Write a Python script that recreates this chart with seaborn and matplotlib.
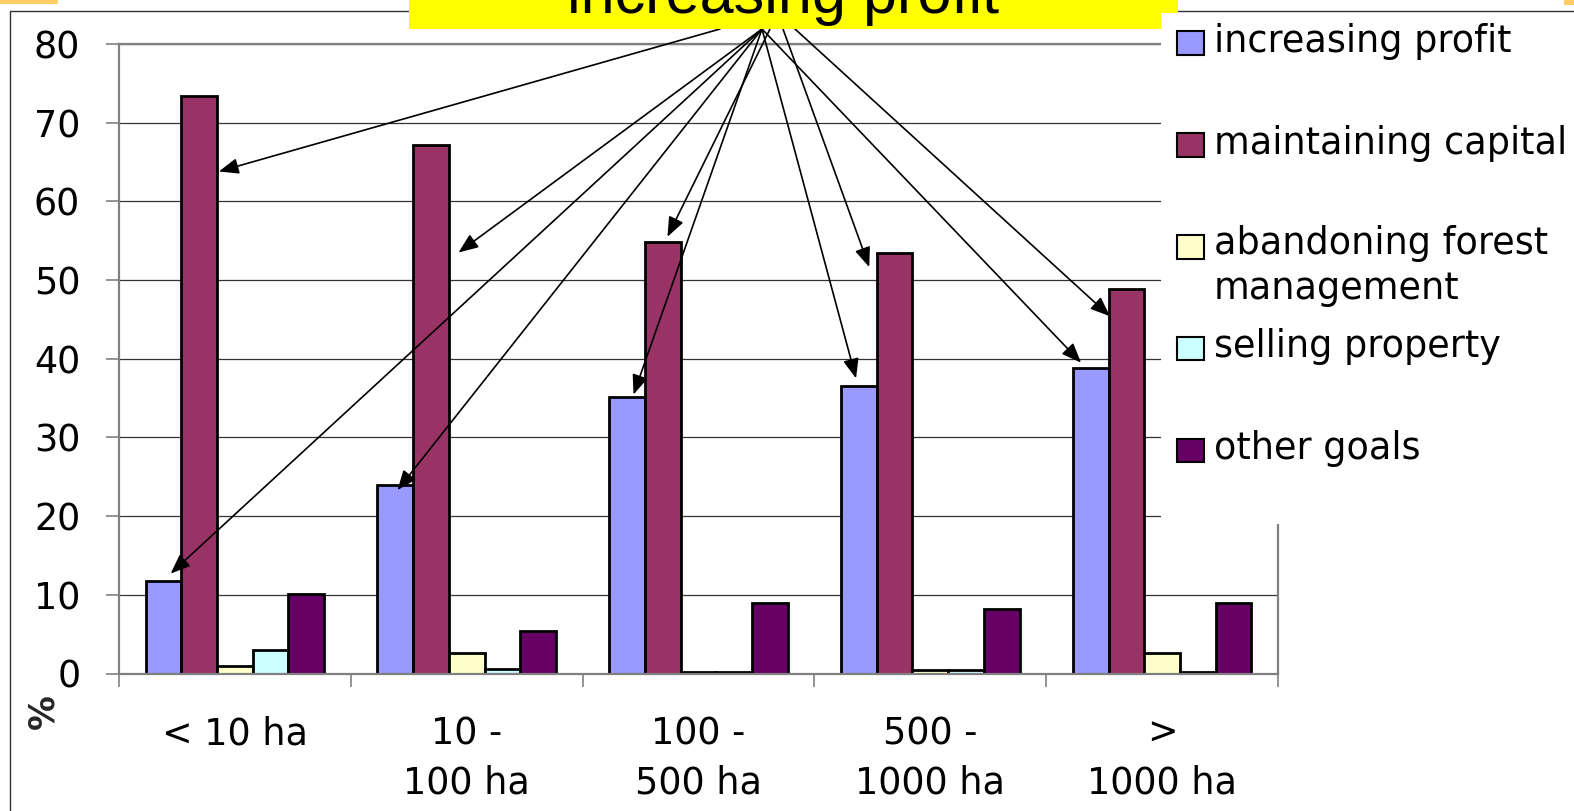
import matplotlib
matplotlib.use("Agg")
import matplotlib.pyplot as plt
from matplotlib.patches import Rectangle
from matplotlib.lines import Line2D
import numpy as np
import pandas as pd
import seaborn as sns

# ---- data -------------------------------------------------------------
size_classes = ["< 10 ha", "10 -\n100 ha", "100 -\n500 ha", "500 -\n1000 ha", ">\n1000 ha"]
goal_names = ["increasing profit", "maintaining capital",
              "abandoning forest management", "selling property", "other goals"]
legend_labels = ["increasing profit", "maintaining capital",
                 "abandoning forest\nmanagement", "selling property", "other goals"]

increasing_profit = [11.7, 24.0, 35.2, 36.6, 38.8]
maintaining_capital = [73.4, 67.2, 54.8, 53.4, 48.9]
abandoning_forest_management = [0.9, 2.6, 0.2, 0.45, 2.6]
selling_property = [3.0, 0.6, 0.2, 0.45, 0.15]
other_goals = [10.1, 5.4, 8.9, 8.2, 8.9]

goal_colors = ["#9999FF", "#993366", "#FFFFCC", "#CCFFFF", "#660066"]
y_ticks = [0, 10, 20, 30, 40, 50, 60, 70, 80]
y_label = "%"
callout_text = "increasing profit"

# callout arrows: (goal index, size-class index, x shift in bar widths,
#                  y shift from bar top, start x on the callout box in px)
callout_arrows = [
    (1, 0, 0.55, -9.6, 720),
    (1, 1, 0.77, -13.7, 762),
    (0, 0, 0.20, 1.0, 762),
    (0, 1, 0.06, -0.7, 762),
    (1, 2, 0.13, 0.7, 770),
    (0, 2, 0.18, 0.25, 762),
    (1, 3, -0.71, -1.75, 783),
    (0, 3, -0.08, 0.9, 762),
    (1, 4, -0.46, -3.5, 795),
    (0, 4, -0.27, 0.7, 762),
]

# ---- figure -----------------------------------------------------------
W, H = 1574, 811
sns.set_style("white")
plt.rcParams["font.family"] = ["DejaVu Sans"]
FS = 26.3

fig = plt.figure(figsize=(W / 100, H / 100), dpi=100)
fig.patch.set_facecolor("white")


def fx(px):
    return px / W


def fy(py):
    return 1 - py / H


ax_left, ax_right, ax_top, ax_bottom = 119, 1278, 44, 673.5
ax = fig.add_axes([fx(ax_left), fy(ax_bottom),
                   fx(ax_right) - fx(ax_left), fy(ax_top) - fy(ax_bottom)])

series = [increasing_profit, maintaining_capital, abandoning_forest_management,
          selling_property, other_goals]
df = pd.DataFrame({
    "size": np.repeat([size_classes], len(goal_names), axis=0).ravel(),
    "goal": np.repeat(goal_names, len(size_classes)),
    "share": np.concatenate(series),
})

sns.barplot(data=df, x="size", y="share", hue="goal",
            order=size_classes, hue_order=goal_names,
            palette=goal_colors, saturation=1, width=0.77,
            edgecolor="black", linewidth=2.0, errorbar=None,
            legend=False, ax=ax)

# axes styling
ax.set_xlim(-0.5, 4.5)
ax.set_ylim(0, 80)
ax.set_yticks(y_ticks)
ax.set_xlabel("")
ax.set_ylabel(y_label, fontsize=25, fontweight="bold", rotation=90,
              ha="center", va="center")
ax.yaxis.set_label_coords((43 - ax_left) / (ax_right - ax_left),
                          (ax_bottom - 712) / (ax_bottom - ax_top))
ax.set_axisbelow(True)
ax.yaxis.grid(True, color="#333333", linewidth=0.9)
ax.xaxis.grid(False)
for side in ["left", "right", "top", "bottom"]:
    ax.spines[side].set_visible(True)
    ax.spines[side].set_color("#808080")
    ax.spines[side].set_linewidth(1.6)

ax.tick_params(axis="y", which="major", left=True, length=9.4, width=1.2,
               color="#808080", pad=18.5, labelsize=FS, labelcolor="black")
ax.set_xticks(np.arange(-0.5, 5.0, 1.0), minor=True)
ax.tick_params(axis="x", which="minor", bottom=True, length=9, width=1.2,
               color="#808080")
ax.tick_params(axis="x", which="major", bottom=True, length=0, pad=30,
               labelsize=FS, labelcolor="black")
for lbl in ax.get_xticklabels():
    lbl.set_linespacing(1.42)

# callout arrows pointing at the profit / capital bars
for goal_i, size_i, dx, dy, start_x in callout_arrows:
    bar = ax.containers[goal_i][size_i]
    tx = bar.get_x() + bar.get_width() * (0.5 + dx)
    ty = bar.get_height() + dy
    ax.annotate("", xy=(tx, ty), xycoords="data",
                xytext=(start_x, H - 29), textcoords="figure pixels",
                arrowprops=dict(arrowstyle="-|>,head_length=0.5,head_width=0.2",
                                mutation_scale=24, color="black", lw=1.2,
                                shrinkA=0, shrinkB=0),
                annotation_clip=False)

# slide frame
fig.add_artist(Line2D([fx(10), 1], [fy(10.7), fy(10.7)], color="#333333",
                      lw=1.0, transform=fig.transFigure, zorder=2))
fig.add_artist(Line2D([fx(10), fx(10)], [fy(10.7), 0], color="#333333",
                      lw=1.0, transform=fig.transFigure, zorder=2))

# yellow callout box
fig.add_artist(Rectangle((fx(409), fy(29)), fx(1178) - fx(409), fy(0) - fy(29),
                         transform=fig.transFigure, facecolor="#FFFF00",
                         edgecolor="none", zorder=3))
fig.text(fx(783), fy(13), callout_text, ha="center", va="baseline",
         fontsize=44, family=["Liberation Sans"], color="black", zorder=4)

# legend panel
fig.add_artist(Rectangle((fx(1161), fy(524)), 1 - fx(1161), fy(12.5) - fy(524),
                         transform=fig.transFigure, facecolor="white",
                         edgecolor="none", zorder=5))
LEGEND_LINE = 43.3
for i, (label, color) in enumerate(zip(legend_labels, goal_colors)):
    base = 51.7 + i * 101.9
    extra_lines = label.count("\n")
    fig.add_artist(Rectangle((fx(1177), fy(base + 3)), fx(27), 23.5 / H,
                             transform=fig.transFigure, facecolor=color,
                             edgecolor="black", lw=1.5, zorder=6))
    fig.text(fx(1214), fy(base + extra_lines * LEGEND_LINE), label,
             ha="left", va="baseline", fontsize=FS, linespacing=1.27,
             color="black", zorder=6)

# slide corner accents
fig.add_artist(Rectangle((0, fy(4)), fx(58), 4 / H, transform=fig.transFigure,
                         facecolor="#FFCC66", edgecolor="none", zorder=7))
fig.add_artist(Rectangle((fx(1564), fy(4.7)), fx(10), 4.7 / H,
                         transform=fig.transFigure, facecolor="#FFCC66",
                         edgecolor="none", zorder=7))

fig.savefig("out.png", dpi=100)
